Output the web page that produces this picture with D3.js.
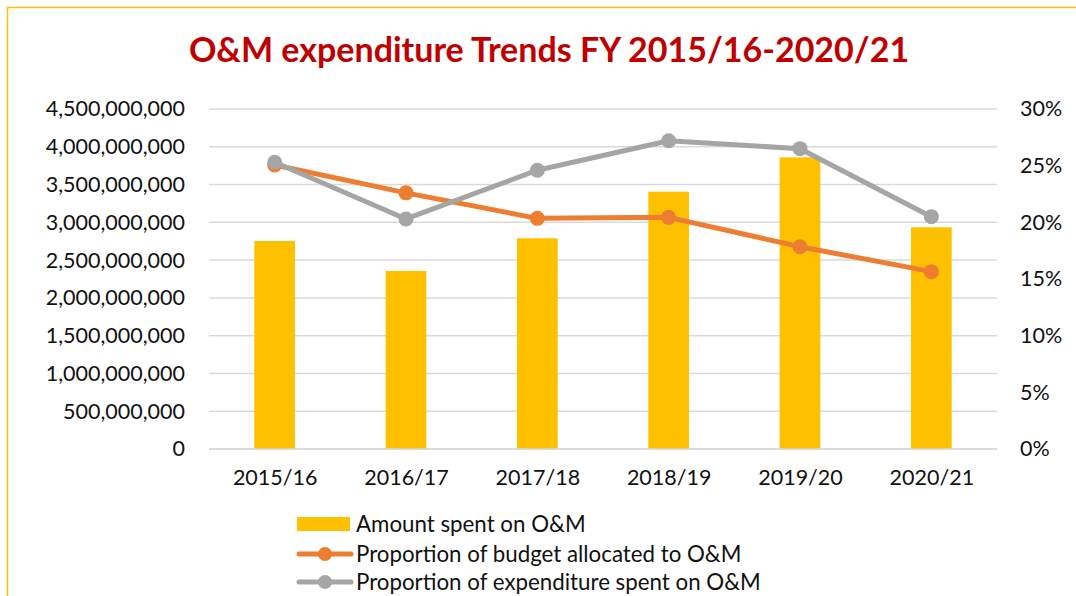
<!DOCTYPE html>
<html><head><meta charset="utf-8">
<script src="https://cdn.jsdelivr.net/npm/d3@7"></script>
<style>body{margin:0;background:#fff;}svg{display:block;}</style>
</head><body>
<script>
const categories = ["2015/16","2016/17","2017/18","2018/19","2019/20","2020/21"];
const amountSpent = [2753000000, 2356000000, 2789000000, 3405000000, 3860000000, 2934000000];
const budgetShare = [0.2506, 0.226, 0.2035, 0.2044, 0.1785, 0.1565];
const expenditureShare = [0.253, 0.203, 0.246, 0.272, 0.265, 0.205];
const leftTicks = [0,500000000,1000000000,1500000000,2000000000,2500000000,3000000000,3500000000,4000000000,4500000000];
const rightTicks = [0,0.05,0.10,0.15,0.20,0.25,0.30];
const seriesNames = ["Amount spent on O&M","Proportion of budget allocated to O&M","Proportion of expenditure spent on O&M"];
const titleText = "O&M expenditure Trends FY 2015/16-2020/21";

const W=1076,H=596;
const svg=d3.select("body").append("svg").attr("width",W).attr("height",H);
const font="Lato, 'Open Sans', sans-serif";
const fs=21.5;
// frame
svg.append("path").attr("d",`M7.5,${H} L7.5,7.5 L${W},7.5`).attr("fill","none").attr("stroke","#FFC000").attr("stroke-width",1.5);

const x0=209,x1=997,yTop=109,yBot=449;
const x=d3.scaleBand().domain(categories).range([x0,x1]).paddingInner(0.69).paddingOuter(0.345);
const xc=d3.scalePoint().domain(categories).range([x0,x1]).padding(0.5);
const yL=d3.scaleLinear().domain([0,4500000000]).range([yBot,yTop]);
const yR=d3.scaleLinear().domain([0,0.30]).range([yBot,yTop]);

// gridlines
svg.append("g").selectAll("line").data(leftTicks).join("line")
 .attr("x1",x0).attr("x2",x1).attr("y1",d=>yL(d)).attr("y2",d=>yL(d))
 .attr("stroke","#D9D9D9").attr("stroke-width",1.5);

// left axis
const la=svg.append("g").attr("transform",`translate(${x0},0)`)
 .call(d3.axisLeft(yL).tickValues(leftTicks).tickFormat(d3.format(",")).tickSize(0).tickPadding(24));
la.select(".domain").remove();
la.selectAll("text").attr("font-family",font).attr("font-size",fs).attr("fill","#111");
// right axis
const ra=svg.append("g").attr("transform",`translate(${x1},0)`)
 .call(d3.axisRight(yR).tickValues(rightTicks).tickFormat(d3.format(".0%")).tickSize(0).tickPadding(23));
ra.select(".domain").remove();
ra.selectAll("text").attr("font-family",font).attr("font-size",fs).attr("fill","#111");
// x axis
const xa=svg.append("g").attr("transform",`translate(0,${yBot})`)
 .call(d3.axisBottom(xc).tickSize(0).tickPadding(21));
xa.select(".domain").remove();
xa.selectAll("text").attr("font-family",font).attr("font-size",fs).attr("fill","#111");

// bars
svg.append("g").selectAll("rect").data(amountSpent).join("rect")
 .attr("x",(d,i)=>x(categories[i])).attr("width",x.bandwidth())
 .attr("y",d=>yL(d)).attr("height",d=>yBot-yL(d)).attr("fill","#FFC000");
// baseline
svg.append("line").attr("x1",x0).attr("x2",x1).attr("y1",yBot).attr("y2",yBot).attr("stroke","#D9D9D9").attr("stroke-width",1.5);

function drawLine(vals,color){
  const line=d3.line().x((d,i)=>xc(categories[i])).y(d=>yR(d));
  svg.append("path").datum(vals).attr("d",line).attr("fill","none").attr("stroke",color).attr("stroke-width",5).attr("stroke-linejoin","round");
  svg.append("g").selectAll("circle").data(vals).join("circle")
   .attr("cx",(d,i)=>xc(categories[i])).attr("cy",d=>yR(d)).attr("r",7.5).attr("fill",color);
}
drawLine(budgetShare,"#ED7D31");
drawLine(expenditureShare,"#A5A5A5");

// title
svg.append("text").attr("x",549).attr("y",62).attr("text-anchor","middle")
 .attr("font-family",font).attr("font-weight","bold").attr("font-size",34).attr("fill","#C00000").text(titleText);

// legend
const lg=svg.append("g");
const rows=[524,554,582];
lg.append("rect").attr("x",297).attr("y",rows[0]-7).attr("width",53).attr("height",14).attr("fill","#FFC000");
[["#ED7D31",1],["#A5A5A5",2]].forEach(([c,i])=>{
  lg.append("line").attr("x1",299).attr("x2",351).attr("y1",rows[i]).attr("y2",rows[i]).attr("stroke",c).attr("stroke-width",5).attr("stroke-linecap","round");
  lg.append("circle").attr("cx",325).attr("cy",rows[i]).attr("r",7).attr("fill",c);
});
lg.selectAll("text").data(seriesNames).join("text")
 .attr("x",356).attr("y",(d,i)=>rows[i]).attr("dy","0.35em")
 .attr("font-family",font).attr("font-size",22.3).attr("fill","#111").text(d=>d);
</script>
</body></html>
